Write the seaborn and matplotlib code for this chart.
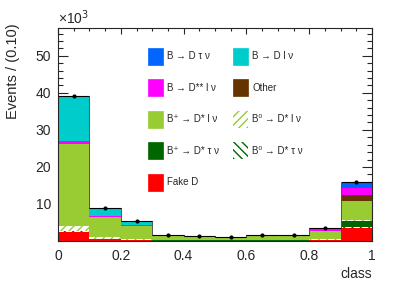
import numpy as np
import matplotlib
matplotlib.use("Agg")
import matplotlib.pyplot as plt
from matplotlib.patches import Patch
from matplotlib.ticker import MultipleLocator
import seaborn as sns

# binning of the classifier output
bin_edges = [0.0, 0.1, 0.2, 0.3, 0.4, 0.5, 0.6, 0.7, 0.8, 0.9, 1.0]
bin_centers = [0.05, 0.15, 0.25, 0.35, 0.45, 0.55, 0.65, 0.75, 0.85, 0.95]

# yields per bin in units of 10^3 events (stack order: bottom first)
fake_d = [2.5, 0.5, 0.3, 0.1, 0.1, 0.1, 0.1, 0.1, 0.2, 3.5]
b0_dst_taunu = [0.1, 0.05, 0.05, 0.02, 0.02, 0.02, 0.02, 0.03, 0.05, 0.4]
bp_dst_taunu = [0.2, 0.1, 0.05, 0.03, 0.03, 0.03, 0.03, 0.05, 0.1, 1.4]
b0_dst_lnu = [1.3, 0.4, 0.2, 0.1, 0.1, 0.1, 0.1, 0.1, 0.2, 0.5]
bp_dst_lnu = [22.0, 5.4, 3.5, 1.0, 0.8, 0.6, 1.0, 1.0, 2.1, 5.0]
other = [0.2, 0.05, 0.05, 0.02, 0.02, 0.02, 0.05, 0.05, 0.1, 1.6]
dss_lnu = [0.6, 0.3, 0.2, 0.05, 0.05, 0.03, 0.2, 0.1, 0.4, 1.9]
d_taunu = [0.1, 0.05, 0.05, 0.03, 0.02, 0.02, 0.05, 0.05, 0.1, 1.1]
d_lnu = [12.2, 2.0, 1.0, 0.2, 0.2, 0.15, 0.1, 0.25, 0.3, 0.3]

data_yield = [39.1, 8.9, 5.4, 1.6, 1.35, 1.05, 1.65, 1.75, 3.6, 15.8]

x_ticks = [0.0, 0.2, 0.4, 0.6, 0.8, 1.0]
x_ticklabels = ["0", "0.2", "0.4", "0.6", "0.8", "1"]
y_ticks = [10, 20, 30, 40, 50]

labels = ["Fake D", "B\u2070 \u2192 D* \u03c4 \u03bd", "B\u207a \u2192 D* \u03c4 \u03bd",
          "B\u2070 \u2192 D* l \u03bd", "B\u207a \u2192 D* l \u03bd", "Other",
          "B \u2192 D** l \u03bd", "B \u2192 D \u03c4 \u03bd", "B \u2192 D l \u03bd"]
yields = [fake_d, b0_dst_taunu, bp_dst_taunu, b0_dst_lnu, bp_dst_lnu,
          other, dss_lnu, d_taunu, d_lnu]

colors = ["#FF0000", "#006600", "#006600", "#99CC33", "#99CC33",
          "#663300", "#FF00FF", "#0066FF", "#00CCCC"]
hatches = [None, "\\\\\\\\", None, "////", None, None, None, None, None]

sns.set_style("ticks")
plt.rcParams["font.family"] = ["Liberation Sans", "DejaVu Sans"]
plt.rcParams["hatch.linewidth"] = 1.0

fig = plt.figure(figsize=(4.15, 2.82), dpi=100)
ax = fig.add_axes([0.1398, 0.1454, 0.7566, 0.7553])

# draw cumulative sums from the top of the stack downwards
cum = np.cumsum(np.array(yields), axis=0)
for i in reversed(range(len(yields))):
    n0 = len(ax.patches)
    sns.histplot(x=bin_centers, weights=cum[i], bins=bin_edges, color=colors[i],
                 alpha=1, linewidth=0, ax=ax)
    if hatches[i]:
        for p in ax.patches[n0:]:
            p.set_facecolor("white")
            p.set_edgecolor(colors[i])
            p.set_hatch(hatches[i])

ax.stairs(cum[-1], bin_edges, baseline=None, color="#555555", lw=0.7)
ax.errorbar(bin_centers, data_yield, xerr=0.05,
            yerr=np.sqrt(np.array(data_yield) * 1000) / 1000,
            fmt="o", ms=2, color="black", lw=0.8, capsize=0)

ax.set_xlim(0, 1)
ax.set_ylim(0, 57.5)
ax.set_xticks(x_ticks, x_ticklabels)
ax.set_yticks(y_ticks)
ax.xaxis.set_minor_locator(MultipleLocator(0.05))
ax.yaxis.set_minor_locator(MultipleLocator(2))
ax.tick_params(which="both", direction="in", top=True, right=True, labelsize=10,
               width=0.8)
ax.tick_params(axis="x", which="major", length=4.5, pad=6)
ax.tick_params(axis="x", which="minor", length=2.5)
ax.tick_params(axis="y", which="major", length=7, pad=5)
ax.tick_params(axis="y", which="minor", length=3.6)
for s in ax.spines.values():
    s.set_linewidth(0.8)

ax.set_ylabel("Events / (0.10)", fontsize=10.5, loc="top")
ax.yaxis.set_label_coords(-0.12, 1.02)
ax.set_xlabel("class", fontsize=10, loc="right", labelpad=3)
ax.text(0.0, 1.005, "\u00d710$^{3}$", transform=ax.transAxes, fontsize=10,
        ha="left", va="bottom")

# legend, filled column by column
order = [7, 6, 4, 2, 0, 8, 5, 3, 1]
handles = []
for i in order:
    if hatches[i]:
        handles.append(Patch(facecolor="white", edgecolor=colors[i], hatch=hatches[i],
                             linewidth=0))
    else:
        handles.append(Patch(facecolor=colors[i], edgecolor=colors[i], linewidth=0.5))
ax.legend(handles, [labels[i] for i in order], ncol=2, frameon=False, fontsize=7,
          loc="upper left", bbox_to_anchor=(0.271, 0.93), borderpad=0,
          handlelength=1.55, handleheight=2.27, handletextpad=0.45,
          labelspacing=1.52, columnspacing=1.4)

fig.savefig("out.png", dpi=100)
